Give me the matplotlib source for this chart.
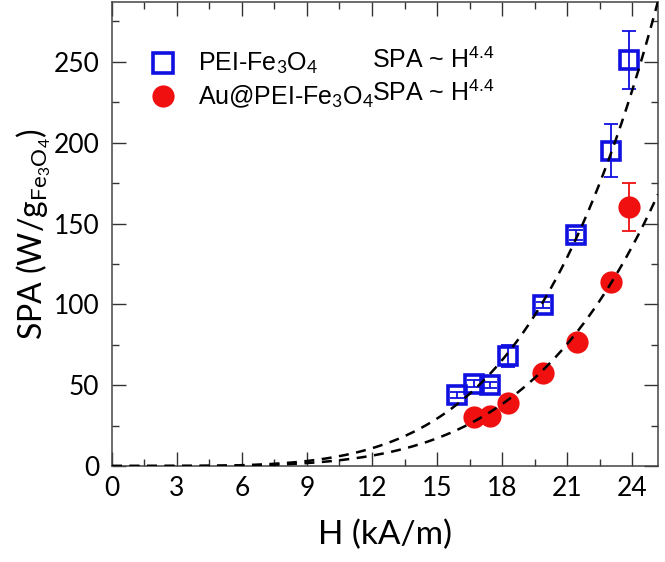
import numpy as np
import matplotlib
matplotlib.use('Agg')
import matplotlib.pyplot as plt
from matplotlib.ticker import MultipleLocator

plt.rcParams['font.family'] = ['Lato', 'DejaVu Sans']
plt.rcParams['mathtext.fontset'] = 'custom'
plt.rcParams['mathtext.rm'] = 'Lato'
plt.rcParams['mathtext.it'] = 'Lato'

# PEI-Fe3O4
h_pei = [15.9, 16.7, 17.46, 18.28, 19.88, 21.43, 23.03, 23.85]
spa_pei = [44, 51, 50, 68, 99.5, 143, 195, 251]
err_pei = [2, 2, 2, 7, 2, 3, 16.5, 18]

# Au@PEI-Fe3O4
h_au = [16.69, 17.46, 18.28, 19.88, 21.46, 23.05, 23.85]
spa_au = [30.5, 31, 38.8, 57.4, 76.6, 113.7, 160.2]
err_au = [2, 2, 2, 2, 2, 3, 15]

# power-law fits SPA ~ H^4.4, given as the fitted SPA at 24 kA/m
fit_exp = 4.4
fit_at24_pei = 232
fit_at24_au = 135.6

names = ['PEI-Fe$_3$O$_4$', 'Au@PEI-Fe$_3$O$_4$']
fit_label = 'SPA ~ H$^{\\mathregular{4.4}}$'

blue = '#1010e0'
red = '#f01010'

fig = plt.figure(figsize=(6.65, 5.62), dpi=100)
ax = fig.add_axes([0.1684, 0.1708, 0.8211, 0.8256])

hh = np.linspace(0, 25.2, 300)
ax.plot(hh, fit_at24_pei * (hh / 24) ** fit_exp, color='black', lw=1.8, dashes=(4, 3), zorder=3)
ax.plot(hh, fit_at24_au * (hh / 24) ** fit_exp, color='black', lw=1.8, dashes=(4, 3), zorder=3)

ax.errorbar(h_pei, spa_pei, yerr=err_pei, fmt='none', ecolor=blue, elinewidth=1.3, capsize=5, capthick=1.3, zorder=2)
ax.errorbar(h_au, spa_au, yerr=err_au, fmt='none', ecolor=red, elinewidth=1.3, capsize=5, capthick=1.3, zorder=2)
ax.plot(h_pei, spa_pei, 's', ms=13, mfc='none', mec=blue, mew=2.6, zorder=2)
ax.plot(h_au, spa_au, 'o', ms=16, color=red, mec='none', zorder=2)

# legend drawn by hand so the fit labels line up in a second column
ax.plot([0.0934], [0.868], 's', ms=14, mfc='none', mec=blue, mew=2.6, transform=ax.transAxes, clip_on=False)
ax.plot([0.0934], [0.797], 'o', ms=16, color=red, mec='none', transform=ax.transAxes, clip_on=False)
for yy, nm in zip([0.868, 0.797], names):
    ax.text(0.1575, yy, nm, transform=ax.transAxes, family='Liberation Sans', fontsize=18, va='center')
    ax.text(0.476, yy + 0.006, fit_label, transform=ax.transAxes, family='Liberation Sans', fontsize=18, va='center')

ax.set_xlim(0, 25.2)
ax.set_ylim(0, 287)
ax.xaxis.set_major_locator(MultipleLocator(3))
ax.xaxis.set_minor_locator(MultipleLocator(1.5))
ax.yaxis.set_major_locator(MultipleLocator(50))
ax.yaxis.set_minor_locator(MultipleLocator(25))
ax.tick_params(which='both', direction='in', top=True, right=True, labelsize=19, color='#333333')
ax.tick_params(which='major', length=10, width=1)
ax.tick_params(which='minor', length=5, width=1)
ax.tick_params(axis='x', pad=7)
ax.tick_params(axis='y', pad=9)
for s in ax.spines.values():
    s.set_color('#444444')
    s.set_linewidth(1.1)

ax.set_xlabel('H (kA/m)', fontsize=24, labelpad=14)
ax.set_ylabel(r'SPA (W/g$_{\mathregular{Fe}_3\mathregular{O}_4}$)', fontsize=23)
ax.yaxis.set_label_coords(-0.108, 0.5)

fig.savefig('out.png', dpi=100)
